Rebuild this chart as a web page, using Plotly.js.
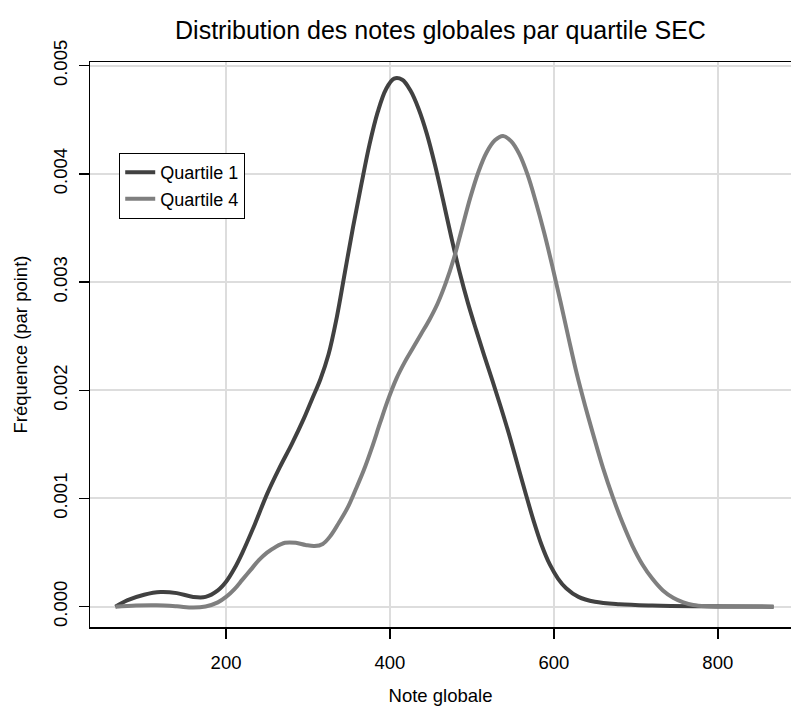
<!DOCTYPE html>
<html>
<head>
<meta charset="utf-8">
<script src="https://cdn.plot.ly/plotly-3.0.1.min.js"></script>
<style>html,body{margin:0;padding:0;background:#fff;}#chart{width:791px;height:711px;}</style>
</head>
<body>
<div id="chart"></div>
<script>
// Quartile 1 density (Note globale -> fréquence par point)
const q1X = [65, 80, 100, 120, 140, 160, 175, 190, 200, 210, 220, 235, 250, 265, 280, 295, 305, 315, 325, 335, 345, 355, 365, 375, 385, 395, 405, 415, 425, 435, 445, 455, 465, 475, 485, 495, 505, 515, 525, 535, 545, 555, 565, 575, 585, 595, 605, 615, 630, 650, 680, 720, 770, 868];
const q1Y = [0, 0.00006, 0.00011, 0.000135, 0.000125, 0.00009, 0.00009, 0.00015, 0.00023, 0.00035, 0.0005, 0.00076, 0.00104, 0.00128, 0.0015, 0.00174, 0.00192, 0.0021, 0.00233, 0.00267, 0.00309, 0.00351, 0.0039, 0.00427, 0.00457, 0.00478, 0.00488, 0.00487, 0.00477, 0.0046, 0.00437, 0.00408, 0.00375, 0.00341, 0.00309, 0.00281, 0.00256, 0.00232, 0.00209, 0.00185, 0.0016, 0.00133, 0.00106, 0.0008, 0.00057, 0.00039, 0.00026, 0.00017, 0.00009, 0.000045, 0.000022, 0.00001, 0.000003, 0];
// Quartile 4 density
const q4X = [65, 90, 115, 140, 160, 175, 190, 200, 210, 220, 230, 240, 250, 260, 272, 285, 297, 308, 318, 328, 338, 348, 358, 368, 378, 388, 398, 408, 418, 428, 438, 448, 458, 468, 478, 488, 498, 508, 518, 528, 538, 548, 558, 568, 578, 588, 598, 608, 618, 628, 638, 648, 660, 672, 684, 696, 708, 720, 733, 746, 758, 770, 785, 800, 868];
const q4Y = [0, 0.00001, 0.000012, 0.000003, -0.000008, 0.000002, 0.00004, 0.00009, 0.00016, 0.00025, 0.00034, 0.00043, 0.0005, 0.00055, 0.00059, 0.00059, 0.00057, 0.00056, 0.00058, 0.00066, 0.00078, 0.00091, 0.00108, 0.00126, 0.00147, 0.0017, 0.00192, 0.00211, 0.00226, 0.00239, 0.00252, 0.00265, 0.0028, 0.00299, 0.00322, 0.0035, 0.00378, 0.00402, 0.0042, 0.00431, 0.00435, 0.0043, 0.00418, 0.00399, 0.00374, 0.00346, 0.00315, 0.00282, 0.00248, 0.00215, 0.00186, 0.00159, 0.00128, 0.00101, 0.00077, 0.00056, 0.00039, 0.00026, 0.00015, 0.00008, 0.00004, 0.000015, 0.000003, 0, 0];
const seriesNames = ["Quartile 1", "Quartile 4"];
const xTicks = [200, 400, 600, 800];
const yTicks = [0, 0.001, 0.002, 0.003, 0.004, 0.005];
const yTickText = ["0.000", "0.001", "0.002", "0.003", "0.004", "0.005"];

const FONT = "Liberation Sans, Arial, Helvetica, sans-serif";

const traces = [
  {x: q1X, y: q1Y, name: seriesNames[0], type: "scatter", mode: "lines",
   line: {color: "#414141", width: 4, shape: "spline", smoothing: 1}},
  {x: q4X, y: q4Y, name: seriesNames[1], type: "scatter", mode: "lines",
   line: {color: "#7f7f7f", width: 4, shape: "spline", smoothing: 1}}
];

const layout = {
  width: 791, height: 711,
  margin: {l: 90, r: 0, t: 62, b: 84},
  paper_bgcolor: "#fff", plot_bgcolor: "#fff",
  font: {family: FONT, size: 18.5, color: "#000"},
  title: {text: "Distribution des notes globales par quartile SEC",
          font: {family: FONT, size: 25, color: "#000"},
          xref: "paper", x: 0.5, xanchor: "center",
          yref: "container", y: 1 - 30/711, yanchor: "middle"},
  xaxis: {range: [34, 889.3], tickvals: xTicks, ticks: "outside", ticklen: 10, tickwidth: 1.5,
          tickcolor: "#000", showline: true, linecolor: "#000", linewidth: 1.5, mirror: true,
          showgrid: true, gridcolor: "#dddddd", gridwidth: 2, zeroline: false,
          tickfont: {family: FONT, size: 18.5}, ticklabelstandoff: 8,
          title: {text: "Note globale", font: {family: FONT, size: 18.5}, standoff: 17},
          automargin: false, fixedrange: true},
  yaxis: {range: [-0.000188, 0.005034], tickvals: yTicks, ticktext: yTickText, tickangle: -90,
          ticks: "outside", ticklen: 10, tickwidth: 1.5, tickcolor: "#000",
          showline: true, linecolor: "#000", linewidth: 1.5,
          showgrid: true, gridcolor: "#dddddd", gridwidth: 2, zeroline: false,
          tickfont: {family: FONT, size: 18.5}, ticklabelstandoff: 4,
          title: {text: "Fréquence (par point)", font: {family: FONT, size: 18.5}, standoff: 17},
          automargin: false, fixedrange: true},
  showlegend: true,
  legend: {x: 0.0414, y: 0.839, xanchor: "left", yanchor: "top",
           bgcolor: "#fff", bordercolor: "#000", borderwidth: 1.2,
           font: {family: FONT, size: 18, color: "#000"}, tracegroupgap: 0, itemwidth: 30}
};

Plotly.newPlot("chart", traces, layout, {displayModeBar: false, staticPlot: true});
</script>
</body>
</html>
